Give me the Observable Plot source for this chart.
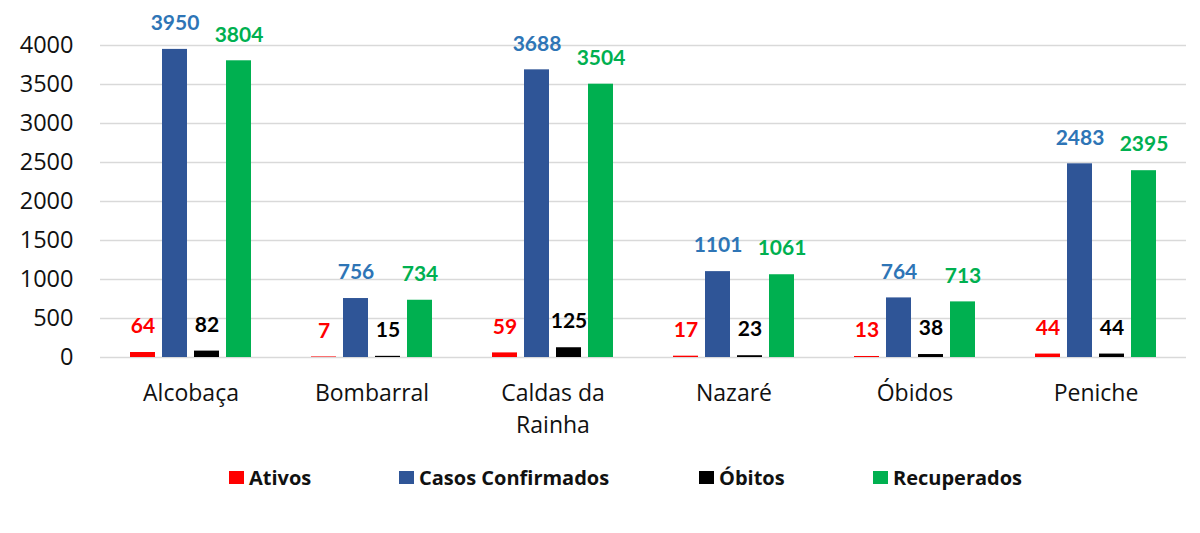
<!DOCTYPE html>
<html>
<head>
<meta charset="utf-8">
<script src="https://cdn.jsdelivr.net/npm/d3@7"></script>
<script src="https://cdn.jsdelivr.net/npm/@observablehq/plot@0.6"></script>
<style>
  html, body { margin: 0; padding: 0; background: #fff; }
  #chart { width: 1200px; height: 450px; }
  #legend { position: relative; width: 1200px; height: 40px; font-family: "Open Sans", Lato, sans-serif; font-weight: bold; font-size: 20px; color: #111; }
  #legend .item { position: absolute; top: 14px; display: flex; align-items: center; white-space: nowrap; }
  #legend .sw { width: 15px; height: 13px; margin-right: 5px; display: inline-block; }
</style>
</head>
<body>
<div id="chart"></div>
<div id="legend"></div>
<script>
const categories = ["Alcobaça", "Bombarral", "Caldas da Rainha", "Nazaré", "Óbidos", "Peniche"];
const seriesNames = ["Ativos", "Casos Confirmados", "Óbitos", "Recuperados"];
const ativos = [64, 7, 59, 17, 13, 44];
const casos = [3950, 756, 3688, 1101, 764, 2483];
const obitos = [82, 15, 125, 23, 38, 44];
const recuperados = [3804, 734, 3504, 1061, 713, 2395];
const yTicks = [0, 500, 1000, 1500, 2000, 2500, 3000, 3500, 4000];

const barColors = ["#ff0000", "#2f5597", "#000000", "#00b050"];
const labelColors = ["#ff0000", "#2e75b6", "#000000", "#00b050"];
const seriesValues = [ativos, casos, obitos, recuperados];

const data = [];
seriesNames.forEach((s, si) => {
  categories.forEach((c, ci) => {
    data.push({ category: c, series: s, value: seriesValues[si][ci], si });
  });
});

const marks = [
  Plot.ruleY(yTicks, { y: d => d, stroke: "#d9d9d9", strokeWidth: 1.3 })
];
seriesNames.forEach((s, si) => {
  const sub = data.filter(d => d.series === s);
  marks.push(Plot.barY(sub, { fx: "category", x: "series", y: "value", fill: barColors[si] }));
  marks.push(Plot.text(sub, {
    fx: "category", x: "series", y: "value", text: d => String(d.value),
    fill: labelColors[si], dy: -26, fontSize: 21, fontWeight: "bold"
  }));
});

const wrapCat = d => d === "Caldas da Rainha" ? "Caldas da\nRainha" : d;

const chart = Plot.plot({
  width: 1200,
  height: 450,
  marginLeft: 99,
  marginRight: 14,
  marginTop: 45,
  marginBottom: 93,
  style: { fontFamily: "Lato, 'Open Sans', sans-serif", background: "#fff", overflow: "visible" },
  fx: { domain: categories, padding: 0, label: null, axis: null },
  x: { domain: seriesNames, paddingInner: 0.21, paddingOuter: 0.85, axis: null },
  y: { domain: [0, 4000], axis: null },
  marks: [
    ...marks,
    Plot.axisY({ ticks: yTicks, tickSize: 0, tickPadding: 27, fontSize: 23.5, label: null, fill: "#111",
                 tickFormat: d => String(d), fontFamily: "'Open Sans', Lato, sans-serif" }),
    Plot.axisFx({ anchor: "bottom", tickSize: 0, tickPadding: 20, fontSize: 23, label: null, fill: "#111",
                  lineHeight: 1.42, fontFamily: "'Open Sans', Lato, sans-serif", tickFormat: wrapCat })
  ]
});
document.getElementById("chart").appendChild(chart);

const legend = document.getElementById("legend");
const legendLeft = [229, 399, 699, 873];
seriesNames.forEach((s, si) => {
  const item = document.createElement("div");
  item.className = "item";
  item.style.left = legendLeft[si] + "px";
  const sw = document.createElement("span");
  sw.className = "sw";
  sw.style.background = barColors[si];
  const label = document.createElement("span");
  label.textContent = s;
  item.appendChild(sw);
  item.appendChild(label);
  legend.appendChild(item);
});
</script>
</body>
</html>
